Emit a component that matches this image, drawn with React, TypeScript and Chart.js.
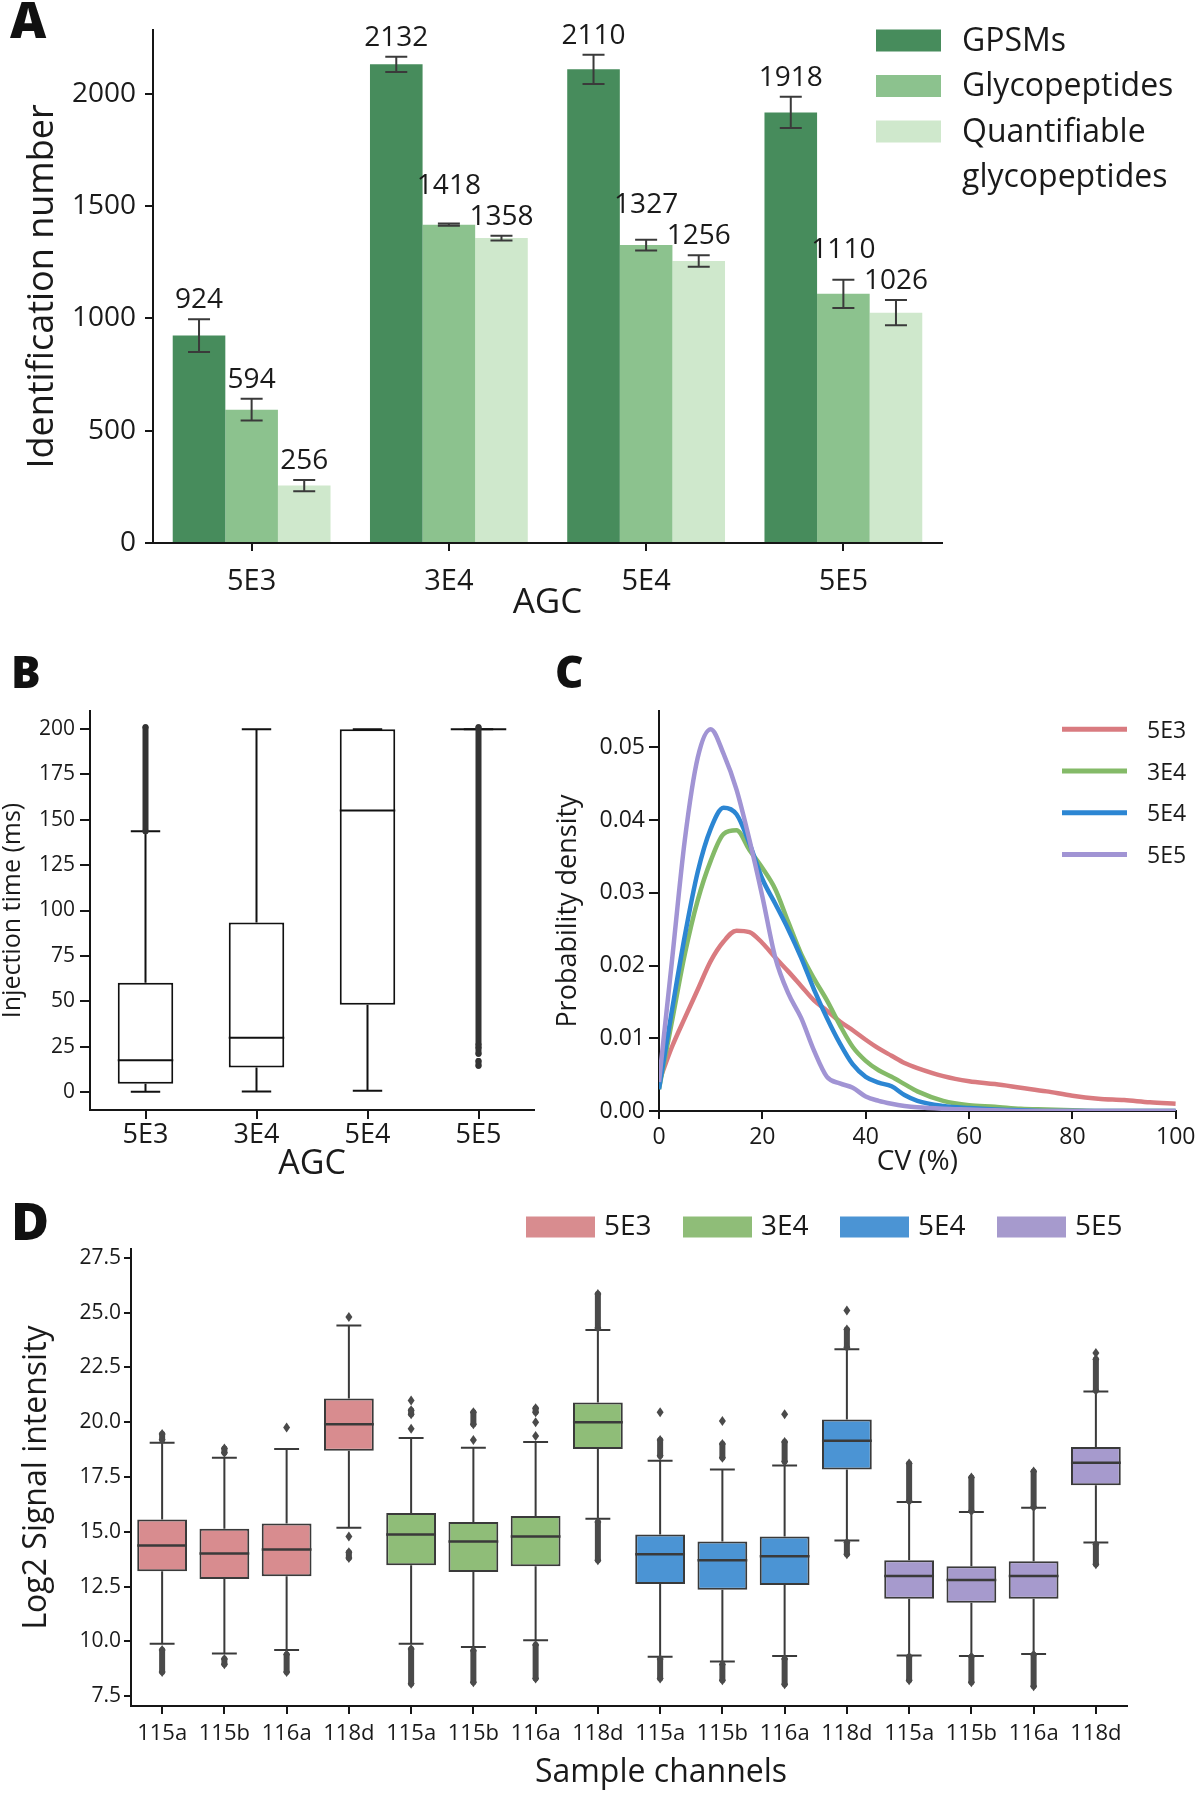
import React, { useEffect, useRef } from "react";
import { Chart, registerables } from "chart.js";

Chart.register(...registerables);

const FONT = '"Open Sans", "Noto Sans", "DejaVu Sans", sans-serif';
const INK = "#1a1a1a";
const AXIS = "#161616";

// ---------------- Panel A : identification numbers ----------------
const agcLevels = ["5E3", "3E4", "5E4", "5E5"];
const gpsmCounts = [924, 2132, 2110, 1918];
const gpsmErrors = [73, 34, 65, 70];
const glycopeptideCounts = [594, 1418, 1327, 1110];
const glycopeptideErrors = [48, 5, 24, 63];
const quantifiableCounts = [256, 1358, 1256, 1026];
const quantifiableErrors = [25, 11, 26, 56];
const countTicks = [0, 500, 1000, 1500, 2000];
const countSeriesNames = ["GPSMs", "Glycopeptides", "Quantifiable glycopeptides"];
const countLegendLines = [["GPSMs"], ["Glycopeptides"], ["Quantifiable", "glycopeptides"]];
const countColors = ["#478C5C", "#8CC28E", "#CFE8CC"];

// ---------------- Panel B : injection time box plot ----------------
const injWhiskerLow = [0, 0.2, 0.6, 200];
const injQ1 = [4.5, 13.4, 48, 200];
const injMedian = [17.4, 29.8, 155.2, 200];
const injQ3 = [60.2, 93.4, 200, 200];
const injWhiskerHigh = [143.7, 200, 200, 200];
const injOutliers = [[[143.7, 201]], [], [], [[14.4, 17], [21, 24.5], [26, 201]]];
const injTicks = [0, 25, 50, 75, 100, 125, 150, 175, 200];

// ---------------- Panel C : CV density ----------------
const cvPoints = [0, 2.5, 5, 7.5, 10, 12.5, 15, 17.5, 20, 22.5, 25, 27.5, 30, 32.5, 35, 37.5, 40, 42.5, 45, 47.5, 50, 55, 60, 65, 70, 75, 80, 85, 90, 95, 100];
const density5E3 = [0.004, 0.0088, 0.0128, 0.0167, 0.0206, 0.0233, 0.0248, 0.0246, 0.0231, 0.0211, 0.0192, 0.0172, 0.0152, 0.0138, 0.0123, 0.0111, 0.0098, 0.0086, 0.0076, 0.0066, 0.0059, 0.0048, 0.0041, 0.0037, 0.0032, 0.0027, 0.0021, 0.0017, 0.0015, 0.0012, 0.001];
const density3E4 = [0.003, 0.0123, 0.0216, 0.029, 0.0344, 0.0381, 0.0386, 0.0359, 0.0334, 0.0305, 0.026, 0.0216, 0.0182, 0.0152, 0.0118, 0.0088, 0.0069, 0.0056, 0.0047, 0.0037, 0.0027, 0.0014, 0.0008, 0.0006, 0.0003, 0.0002, 0.0001, 0, 0, 0, 0];
const density5E4 = [0.003, 0.0138, 0.0241, 0.0329, 0.0388, 0.0417, 0.0408, 0.0368, 0.0319, 0.0285, 0.025, 0.0211, 0.0167, 0.0128, 0.0093, 0.0064, 0.0047, 0.0039, 0.0034, 0.0022, 0.0014, 0.0007, 0.0004, 0.0002, 0.0001, 0, 0, 0, 0, 0, 0];
const density5E5 = [0.004, 0.0206, 0.0373, 0.0486, 0.0525, 0.0491, 0.0442, 0.0373, 0.0295, 0.0211, 0.0162, 0.0128, 0.0083, 0.0047, 0.0038, 0.0032, 0.002, 0.0014, 0.001, 0.0007, 0.0005, 0.0003, 0.0002, 0.0001, 0, 0, 0, 0, 0, 0, 0];
const densityTicks = [0, 0.01, 0.02, 0.03, 0.04, 0.05];
const cvTicks = [0, 20, 40, 60, 80, 100];
const densityColors = ["#D97B80", "#84BA68", "#2C86D3", "#A194D4"];

// ---------------- Panel D : log2 signal intensity ----------------
const channelLabels = ["115a", "115b", "116a", "118d", "115a", "115b", "116a", "118d", "115a", "115b", "116a", "118d", "115a", "115b", "116a", "118d"];
const channelAgc = [0, 0, 0, 0, 1, 1, 1, 1, 2, 2, 2, 2, 3, 3, 3, 3];
const sigWhiskerLow = [9.89, 9.44, 9.6, 15.18, 9.89, 9.74, 10.05, 15.59, 9.3, 9.08, 9.33, 14.6, 9.35, 9.33, 9.42, 14.51];
const sigQ1 = [13.2, 12.84, 12.97, 18.69, 13.47, 13.16, 13.43, 18.78, 12.62, 12.35, 12.57, 17.84, 11.94, 11.76, 11.94, 17.12];
const sigMedian = [14.37, 14.01, 14.19, 19.91, 14.87, 14.55, 14.78, 20.0, 13.97, 13.7, 13.88, 19.15, 12.98, 12.8, 12.98, 18.15];
const sigQ3 = [15.56, 15.14, 15.38, 21.08, 15.86, 15.45, 15.72, 20.9, 14.87, 14.55, 14.78, 20.12, 13.7, 13.43, 13.65, 18.87];
const sigWhiskerHigh = [19.06, 18.38, 18.78, 24.41, 19.28, 18.83, 19.1, 24.2, 18.24, 17.84, 18.02, 23.33, 16.36, 15.9, 16.1, 21.4];
const sigOutliers = [
  [[19.2, 19.46], [8.6, 9.6]],
  [[18.6, 18.8], [8.95, 9.2]],
  [[19.76, 19.76], [8.6, 9.4]],
  [[24.8, 24.8], [14.78, 14.78], [13.8, 14.06]],
  [[19.7, 19.7], [20.36, 20.54], [20.99, 20.99], [8.07, 9.65]],
  [[19.19, 19.19], [19.9, 20.45], [8.13, 9.57]],
  [[19.37, 19.37], [20.0, 20.0], [20.45, 20.63], [8.3, 9.83]],
  [[24.3, 25.85], [13.7, 15.45]],
  [[18.47, 19.19], [20.45, 20.45], [8.31, 9.2]],
  [[18.38, 19.0], [20.05, 20.05], [8.22, 8.94]],
  [[18.2, 19.1], [20.36, 20.36], [8.04, 9.2]],
  [[23.42, 24.23], [25.09, 25.09], [13.97, 14.51]],
  [[16.4, 18.11], [8.22, 9.3]],
  [[15.95, 17.48], [8.13, 9.3]],
  [[16.13, 17.75], [7.95, 9.39]],
  [[21.44, 22.87], [23.15, 23.15], [13.52, 14.42]],
];
const sigTicks = [7.5, 10, 12.5, 15, 17.5, 20, 22.5, 25, 27.5];
const sigColors = ["#D88C8F", "#8FBD78", "#4B94D4", "#A69ACD"];

// ---------------- helpers ----------------
function font(size: number, weight: string = "normal") {
  return `${weight} ${size}px ${FONT}`;
}

function axis(fontSize: number, tickLength: number, padding: number) {
  return {
    border: { display: true, color: AXIS, width: 2 },
    grid: { display: true, drawOnChartArea: false, drawTicks: true, tickLength, color: AXIS, lineWidth: 2, offset: false },
    ticks: { color: INK, font: { family: FONT, size: fontSize }, padding, maxRotation: 0, autoSkip: false },
  };
}

function axisTitle(text: string, size: number, padding: any) {
  return { display: true, text, color: INK, font: { family: FONT, size, lineHeight: 1 }, padding };
}

function drawLetter(ctx: any, letter: string, x: number, baseline: number, size: number) {
  ctx.save();
  ctx.fillStyle = "#111";
  ctx.font = font(size, "800");
  ctx.textAlign = "left";
  ctx.textBaseline = "alphabetic";
  ctx.fillText(letter, x, baseline);
  ctx.restore();
}

function makeBoxPlugin(cfg: any) {
  return {
    id: "boxWhiskers",
    afterDatasetsDraw(chart: any) {
      const ctx = chart.ctx;
      const ys = chart.scales.y;
      const meta = chart.getDatasetMeta(0);
      ctx.save();
      meta.data.forEach((bar: any, i: number) => {
        const x = bar.x;
        const half = bar.width / 2;
        const capHalf = (bar.width * cfg.capFrac) / 2;
        const pq1 = ys.getPixelForValue(cfg.q1[i]);
        const pq3 = ys.getPixelForValue(cfg.q3[i]);
        const pl = ys.getPixelForValue(cfg.low[i]);
        const ph = ys.getPixelForValue(cfg.high[i]);
        const pm = ys.getPixelForValue(cfg.median[i]);
        ctx.strokeStyle = cfg.color;
        ctx.lineWidth = cfg.width;
        ctx.lineCap = "butt";
        ctx.beginPath();
        ctx.moveTo(x, pq3);
        ctx.lineTo(x, ph);
        ctx.moveTo(x - capHalf, ph);
        ctx.lineTo(x + capHalf, ph);
        ctx.moveTo(x, pq1);
        ctx.lineTo(x, pl);
        ctx.moveTo(x - capHalf, pl);
        ctx.lineTo(x + capHalf, pl);
        ctx.stroke();
        ctx.lineWidth = cfg.medianWidth;
        ctx.beginPath();
        ctx.moveTo(x - half, pm);
        ctx.lineTo(x + half, pm);
        ctx.stroke();
        ctx.fillStyle = cfg.outlierColor;
        ctx.strokeStyle = cfg.outlierColor;
        const marker = (py: number) => {
          ctx.beginPath();
          if (cfg.marker === "diamond") {
            ctx.moveTo(x, py - cfg.mh);
            ctx.lineTo(x + cfg.mw, py);
            ctx.lineTo(x, py + cfg.mh);
            ctx.lineTo(x - cfg.mw, py);
            ctx.closePath();
          } else {
            ctx.arc(x, py, cfg.mw, 0, Math.PI * 2);
          }
          ctx.fill();
        };
        (cfg.outliers[i] || []).forEach((r: number[]) => {
          const a = ys.getPixelForValue(r[0]);
          const b = ys.getPixelForValue(r[1]);
          if (Math.abs(a - b) > 1) {
            ctx.lineWidth = cfg.clusterWidth;
            ctx.lineCap = "round";
            ctx.beginPath();
            ctx.moveTo(x, a);
            ctx.lineTo(x, b);
            ctx.stroke();
            marker(a);
            marker(b);
          } else {
            marker(a);
          }
        });
      });
      ctx.restore();
    },
  };
}

// ---------------- Panel builders ----------------
function makePanelA() {
  const errs = [gpsmErrors, glycopeptideErrors, quantifiableErrors];
  const series = [gpsmCounts, glycopeptideCounts, quantifiableCounts];
  const errorPlugin = {
    id: "errorBars",
    afterDatasetsDraw(chart: any) {
      const ctx = chart.ctx;
      const ys = chart.scales.y;
      ctx.save();
      ctx.strokeStyle = "#3a3a3a";
      ctx.lineWidth = 2;
      ctx.font = font(28);
      const capH = 20;
      for (let i = 0; i < agcLevels.length; i++) {
        const boxes: any[] = [];
        for (let d = 0; d < series.length; d++) {
          const bar = chart.getDatasetMeta(d).data[i];
          const v = series[d][i];
          const e = errs[d][i];
          const pTop = ys.getPixelForValue(v + e);
          const pBot = ys.getPixelForValue(v - e);
          ctx.beginPath();
          ctx.moveTo(bar.x, pTop);
          ctx.lineTo(bar.x, pBot);
          ctx.moveTo(bar.x - 11, pTop);
          ctx.lineTo(bar.x + 11, pTop);
          ctx.moveTo(bar.x - 11, pBot);
          ctx.lineTo(bar.x + 11, pBot);
          ctx.stroke();
          const text = String(v);
          boxes.push({ x: bar.x, w: ctx.measureText(text).width, bottom: pTop - 11, text });
        }
        for (let d = boxes.length - 2; d >= 0; d--) {
          const cur = boxes[d];
          const nxt = boxes[d + 1];
          const overlapX = cur.x + cur.w / 2 > nxt.x - nxt.w / 2 + 1;
          if (overlapX && cur.bottom > nxt.bottom - capH - 11) cur.bottom = nxt.bottom - capH - 11;
        }
        ctx.fillStyle = INK;
        ctx.textAlign = "center";
        ctx.textBaseline = "alphabetic";
        boxes.forEach((b) => ctx.fillText(b.text, b.x, b.bottom));
      }
      ctx.restore();
    },
    afterDraw(chart: any) {
      const ctx = chart.ctx;
      drawLetter(ctx, "A", 10, 38, 50);
      ctx.save();
      ctx.font = font(32);
      ctx.textAlign = "left";
      ctx.textBaseline = "middle";
      ctx.fillStyle = INK;
      let y = 40.5;
      countLegendLines.forEach((lines, k) => {
        ctx.fillStyle = countColors[k];
        ctx.fillRect(876, y - 11, 65, 22);
        ctx.fillStyle = INK;
        lines.forEach((ln, j) => ctx.fillText(ln, 962, y + 1 + j * 45));
        y += 45.5;
      });
      ctx.restore();
    },
  };
  return {
    type: "bar",
    data: {
      labels: agcLevels,
      datasets: series.map((s, d) => ({
        label: countSeriesNames[d],
        data: s,
        backgroundColor: countColors[d],
        borderWidth: 0,
        barPercentage: 1,
        categoryPercentage: 0.8,
      })),
    },
    options: {
      responsive: false,
      animation: false,
      devicePixelRatio: 1,
      layout: { padding: { left: 0, top: 30, right: 258, bottom: 0 }, autoPadding: false },
      plugins: { legend: { display: false }, tooltip: { enabled: false } },
      scales: {
        x: {
          type: "category",
          offset: true,
          ...axis(29, 8, 13),
          title: axisTitle("AGC", 35, { top: 0, bottom: 19 }),
          afterFit: (s: any) => { s.height = 97; },
        },
        y: {
          type: "linear",
          min: 0,
          max: 2285,
          ...axis(28, 8, 9),
          ticks: { ...axis(28, 8, 9).ticks, callback: (v: any) => String(v) },
          afterBuildTicks: (s: any) => { s.ticks = countTicks.map((value) => ({ value })); },
          title: axisTitle("Identification number", 36, { top: 25, bottom: 0 }),
          afterFit: (s: any) => { s.width = 153; },
        },
      },
    },
    plugins: [errorPlugin],
  };
}

function makePanelB() {
  const boxPlugin = makeBoxPlugin({
    q1: injQ1, q3: injQ3, low: injWhiskerLow, high: injWhiskerHigh, median: injMedian, outliers: injOutliers,
    capFrac: 0.53, color: "#111", width: 2, medianWidth: 2, outlierColor: "#333", marker: "circle", mw: 3, mh: 3, clusterWidth: 6,
  });
  const letter = { id: "letterB", afterDraw(chart: any) { drawLetter(chart.ctx, "B", 11, 48, 44); } };
  return {
    type: "bar",
    data: {
      labels: agcLevels,
      datasets: [{
        data: agcLevels.map((_, i) => [injQ1[i], injQ3[i]]),
        backgroundColor: "#ffffff",
        borderColor: "#111",
        borderWidth: 2,
        borderSkipped: false,
        barPercentage: 0.5,
        categoryPercentage: 1,
      }],
    },
    options: {
      responsive: false,
      animation: false,
      devicePixelRatio: 1,
      layout: { padding: { left: 0, top: 71, right: 26, bottom: 0 }, autoPadding: false },
      plugins: { legend: { display: false }, tooltip: { enabled: false } },
      scales: {
        x: {
          type: "category",
          offset: true,
          ...axis(27, 9, 0),
          title: axisTitle("AGC", 34, { top: 0, bottom: 19 }),
          afterFit: (s: any) => { s.height = 90; },
        },
        y: {
          type: "linear",
          min: -10,
          max: 210,
          ...axis(21, 10, 5),
          ticks: { ...axis(21, 10, 5).ticks, callback: (v: any) => String(v) },
          afterBuildTicks: (s: any) => { s.ticks = injTicks.map((value) => ({ value })); },
          title: axisTitle("Injection time (ms)", 25, { top: 0, bottom: 0 }),
          afterFit: (s: any) => { s.width = 90; },
        },
      },
    },
    plugins: [boxPlugin, letter],
  };
}

function makePanelC() {
  const series = [density5E3, density3E4, density5E4, density5E5];
  const legendPlugin = {
    id: "legendC",
    afterDraw(chart: any) {
      const ctx = chart.ctx;
      drawLetter(ctx, "C", 5, 48, 44);
      ctx.save();
      ctx.font = font(23);
      ctx.textAlign = "left";
      ctx.textBaseline = "middle";
      agcLevels.forEach((name, k) => {
        const y = 89.3 + k * 41.7;
        ctx.strokeStyle = densityColors[k];
        ctx.lineWidth = 5;
        ctx.beginPath();
        ctx.moveTo(512, y);
        ctx.lineTo(577, y);
        ctx.stroke();
        ctx.fillStyle = INK;
        ctx.fillText(name, 597, y + 2);
      });
      ctx.restore();
    },
  };
  return {
    type: "line",
    data: {
      datasets: series.map((s, k) => ({
        label: agcLevels[k],
        data: cvPoints.map((x, i) => ({ x, y: s[i] })),
        borderColor: densityColors[k],
        borderWidth: 4.5,
        pointRadius: 0,
        fill: false,
        cubicInterpolationMode: "monotone",
        order: 4 - k,
      })),
    },
    options: {
      responsive: false,
      animation: false,
      devicePixelRatio: 1,
      layout: { padding: { left: 0, top: 71, right: 10, bottom: 0 }, autoPadding: false },
      plugins: { legend: { display: false }, tooltip: { enabled: false } },
      scales: {
        x: {
          type: "linear",
          min: 0,
          max: 100,
          ...axis(23, 8, 4.5),
          ticks: { ...axis(23, 8, 4.5).ticks, callback: (v: any) => String(v) },
          afterBuildTicks: (s: any) => { s.ticks = cvTicks.map((value) => ({ value })); },
          title: axisTitle("CV (%)", 28, { top: 0, bottom: 24 }),
          afterFit: (s: any) => { s.height = 89; },
        },
        y: {
          type: "linear",
          min: 0,
          max: 0.055,
          ...axis(23, 10, 4),
          ticks: { ...axis(23, 10, 4).ticks, callback: (v: any) => Number(v).toFixed(2) },
          afterBuildTicks: (s: any) => { s.ticks = densityTicks.map((value) => ({ value })); },
          title: axisTitle("Probability density", 27, { top: 4.4, bottom: 0 }),
          afterFit: (s: any) => { s.width = 109; },
        },
      },
    },
    plugins: [legendPlugin],
  };
}

function makePanelD() {
  const boxPlugin = makeBoxPlugin({
    q1: sigQ1, q3: sigQ3, low: sigWhiskerLow, high: sigWhiskerHigh, median: sigMedian, outliers: sigOutliers,
    capFrac: 0.5, color: "#3a3a3a", width: 2, medianWidth: 2.5, outlierColor: "#4a4a4a", marker: "diamond", mw: 3.5, mh: 5, clusterWidth: 6,
  });
  const extras = {
    id: "extrasD",
    afterDraw(chart: any) {
      const ctx = chart.ctx;
      drawLetter(ctx, "D", 11, 50, 52);
      ctx.save();
      ctx.font = font(28);
      ctx.textAlign = "left";
      ctx.textBaseline = "middle";
      agcLevels.forEach((name, k) => {
        const x0 = 526 + k * 157;
        ctx.fillStyle = sigColors[k];
        ctx.fillRect(x0, 26.5, 69, 21);
        ctx.fillStyle = INK;
        ctx.fillText(name, x0 + 78, 37.5);
      });
      ctx.font = font(32);
      ctx.textAlign = "center";
      ctx.fillText("Sample channels", 661, 582.6);
      ctx.restore();
    },
  };
  return {
    type: "bar",
    data: {
      labels: channelLabels,
      datasets: [{
        data: channelLabels.map((_, i) => [sigQ1[i], sigQ3[i]]),
        backgroundColor: channelAgc.map((g) => sigColors[g]),
        borderColor: "#3a3a3a",
        borderWidth: 2,
        borderSkipped: false,
        barPercentage: 0.8,
        categoryPercentage: 1,
      }],
    },
    options: {
      responsive: false,
      animation: false,
      devicePixelRatio: 1,
      layout: { padding: { left: 0, top: 59, right: 73, bottom: 0 }, autoPadding: false },
      plugins: { legend: { display: false }, tooltip: { enabled: false } },
      scales: {
        x: {
          type: "category",
          offset: true,
          ...axis(22, 8, 6.7),
          afterFit: (s: any) => { s.height = 92; },
        },
        y: {
          type: "linear",
          min: 7.05,
          max: 27.9,
          ...axis(21, 7, 3),
          ticks: { ...axis(21, 7, 3).ticks, callback: (v: any) => Number(v).toFixed(1) },
          afterBuildTicks: (s: any) => { s.ticks = sigTicks.map((value) => ({ value })); },
          title: axisTitle("Log2 Signal intensity", 32, { top: 21, bottom: 0 }),
          afterFit: (s: any) => { s.width = 131; },
        },
      },
    },
    plugins: [boxPlugin, extras],
  };
}

function ChartBox(props: { left: number; top: number; width: number; height: number; make: () => any }) {
  const ref = useRef<HTMLCanvasElement | null>(null);
  useEffect(() => {
    if (!ref.current) return;
    const chart = new Chart(ref.current, props.make());
    return () => chart.destroy();
  }, []);
  return (
    <canvas
      ref={ref}
      width={props.width}
      height={props.height}
      style={{ position: "absolute", left: props.left, top: props.top, width: props.width, height: props.height }}
    />
  );
}

export default function App() {
  return (
    <div style={{ position: "absolute", left: 0, top: 0, width: 1200, height: 1798, background: "#ffffff", overflow: "hidden" }}>
      <ChartBox left={0} top={0} width={1200} height={640} make={makePanelA} />
      <ChartBox left={0} top={640} width={560} height={560} make={makePanelB} />
      <ChartBox left={550} top={640} width={650} height={560} make={makePanelC} />
      <ChartBox left={0} top={1190} width={1200} height={608} make={makePanelD} />
    </div>
  );
}
